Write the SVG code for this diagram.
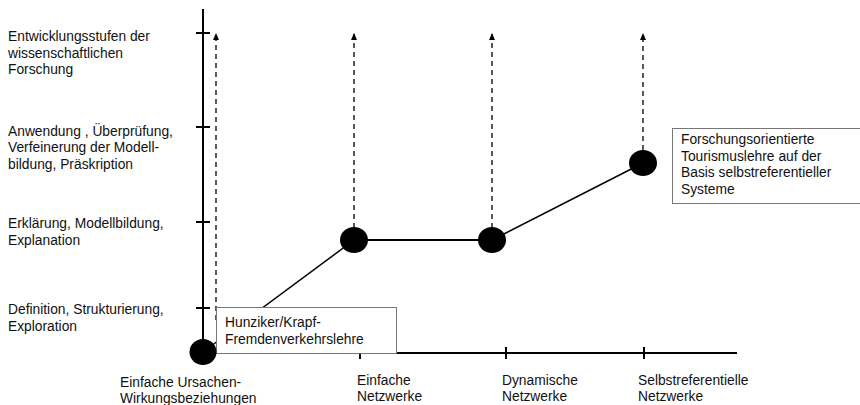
<svg xmlns="http://www.w3.org/2000/svg" width="860" height="405" viewBox="0 0 860 405">
<style>
text{font-family:"Liberation Sans",Arial,sans-serif;font-size:13.8px;fill:#111}
.axis{stroke:#000;stroke-width:2;fill:none}
.dash{stroke:#000;stroke-width:1.3;stroke-dasharray:5 4;fill:none}
.link{stroke:#000;stroke-width:1.5;fill:none}
.hlink{stroke:#000;stroke-width:2;fill:none}
.dot{fill:#000}
.box{fill:#fff;stroke:#777;stroke-width:1}
</style>
<defs>
<marker id="ah" viewBox="0 0 7 6" refX="7" refY="3" markerWidth="7" markerHeight="6" orient="auto" markerUnits="userSpaceOnUse">
<path d="M0,0 L7,3 L0,6 Z" fill="#000"/>
</marker>
</defs>
<rect width="860" height="405" fill="#fff"/>
<g id="axes">
<line class="axis" x1="203" y1="9" x2="203" y2="352"/>
<line class="axis" x1="203" y1="353" x2="737" y2="353"/>
<line class="axis" x1="196" y1="33" x2="210" y2="33"/>
<line class="axis" x1="196" y1="127" x2="210" y2="127"/>
<line class="axis" x1="196" y1="222" x2="210" y2="222"/>
<line class="axis" x1="196" y1="308" x2="210" y2="308"/>
<line class="axis" x1="360" y1="347" x2="360" y2="359"/>
<line class="axis" x1="506" y1="347" x2="506" y2="359"/>
<line class="axis" x1="644" y1="347" x2="644" y2="359"/>
</g>
<g id="axis-labels">
<text x="8" y="41">Entwicklungsstufen der</text>
<text x="8" y="57.5">wissenschaftlichen</text>
<text x="8" y="74">Forschung</text>
<text x="8" y="135.5">Anwendung , Überprüfung,</text>
<text x="8" y="152">Verfeinerung der Modell-</text>
<text x="8" y="168.5">bildung, Präskription</text>
<text x="8" y="228">Erklärung, Modellbildung,</text>
<text x="8" y="244.5">Explanation</text>
<text x="8" y="314">Definition, Strukturierung,</text>
<text x="8" y="330.5">Exploration</text>
<text x="120" y="386.5">Einfache Ursachen-</text>
<text x="120" y="402.5">Wirkungsbeziehungen</text>
<text x="357" y="384.5">Einfache</text>
<text x="357" y="401">Netzwerke</text>
<text x="502" y="384.5">Dynamische</text>
<text x="502" y="401">Netzwerke</text>
<text x="638" y="384.5">Selbstreferentielle</text>
<text x="638" y="401">Netzwerke</text>
</g>
<g id="connectors">
<line class="dash" x1="216" y1="320" x2="216" y2="33" marker-end="url(#ah)"/>
<line class="dash" x1="354" y1="228" x2="354" y2="33" marker-end="url(#ah)"/>
<line class="dash" x1="492" y1="228" x2="492" y2="33" marker-end="url(#ah)"/>
<line class="dash" x1="643" y1="150" x2="643" y2="33" marker-end="url(#ah)"/>
<line class="link" x1="203" y1="352" x2="354" y2="240"/>
<line class="hlink" x1="354" y1="240" x2="492" y2="240"/>
<line class="link" x1="492" y1="240" x2="643" y2="163"/>
</g>
<g id="node-hunziker">
<rect class="box" x="216.5" y="307.5" width="180" height="46"/>
<text x="225" y="327">Hunziker/Krapf-</text>
<text x="225" y="344">Fremdenverkehrslehre</text>
</g>
<g id="node-origin"><ellipse class="dot" cx="203" cy="352" rx="13.5" ry="13"/></g>
<g id="node-einfach"><ellipse class="dot" cx="354" cy="240" rx="14" ry="13"/></g>
<g id="node-dynamisch"><ellipse class="dot" cx="492" cy="240" rx="14" ry="13"/></g>
<g id="node-selbst"><ellipse class="dot" cx="643" cy="163" rx="14" ry="13"/></g>
<g id="node-forschung">
<rect class="box" x="672.5" y="128.5" width="192" height="75"/>
<text x="681" y="144">Forschungsorientierte</text>
<text x="681" y="160.5">Tourismuslehre auf der</text>
<text x="681" y="177">Basis selbstreferentieller</text>
<text x="681" y="193.5">Systeme</text>
</g>
</svg>
